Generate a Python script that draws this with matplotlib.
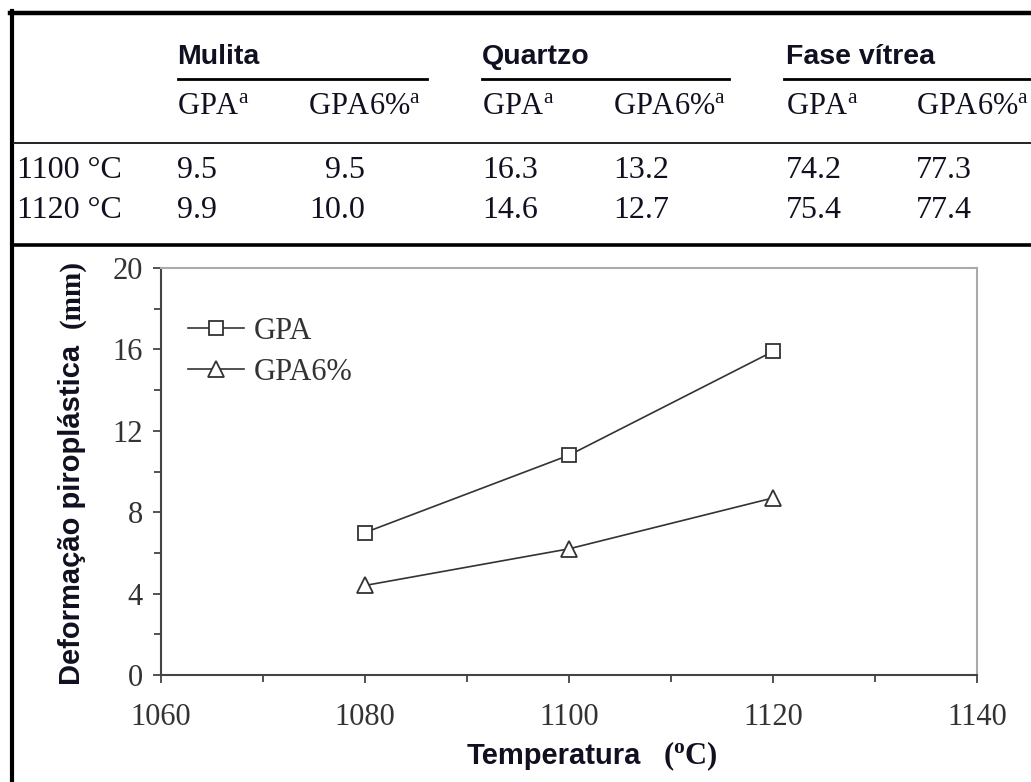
import numpy as np
import matplotlib
matplotlib.use('Agg')
import matplotlib.pyplot as plt
from matplotlib.lines import Line2D
from matplotlib.ticker import MultipleLocator

plt.rcParams['mathtext.fontset'] = 'custom'
plt.rcParams['mathtext.rm'] = 'Liberation Serif'
plt.rcParams['mathtext.bf'] = 'Liberation Serif:bold'
plt.rcParams['mathtext.it'] = 'Liberation Serif:italic'
plt.rcParams['font.family'] = 'Liberation Serif'

# table data
phases = ['Mulita', 'Quartzo', 'Fase vítrea']
samples = ['GPA', 'GPA6%']
row_labels = ['1100 °C', '1120 °C']
mulita_gpa = ['9.5', '9.9']
mulita_gpa6 = ['9.5', '10.0']
quartzo_gpa = ['16.3', '14.6']
quartzo_gpa6 = ['13.2', '12.7']
fase_gpa = ['74.2', '75.4']
fase_gpa6 = ['77.3', '77.4']

# chart data
temps = [1080, 1100, 1120]
gpa = [7.0, 10.8, 15.9]
gpa6 = [4.4, 6.2, 8.7]

W, H = 1031, 782
def fx(px):
    return px / W
def fy(py):
    return 1 - py / H

serif = 'Liberation Serif'
sans = 'Liberation Sans'
txtc = '#101020'
gray = '#333333'

fig = plt.figure(figsize=(W / 100, H / 100), dpi=100)

# frame lines
fig.add_artist(Line2D([fx(12), fx(12)], [fy(11), fy(782)], color='black', lw=3.0))
fig.add_artist(Line2D([fx(10), fx(1031)], [fy(13), fy(13)], color='black', lw=3.2))
fig.add_artist(Line2D([fx(14), fx(1031)], [fy(143), fy(143)], color='#222222', lw=1.4))
fig.add_artist(Line2D([fx(14), fx(1031)], [fy(245), fy(245)], color='black', lw=2.6))

# table header
head_x = [177, 482, 786]
line_x = [(178, 427), (482, 729), (784, 1031)]
for ph, hx, (l0, l1) in zip(phases, head_x, line_x):
    fig.text(fx(hx), fy(57), ph, family=sans, weight='bold', fontsize=20.5,
             color=txtc, ha='left', va='center')
    fig.add_artist(Line2D([fx(l0), fx(l1)], [fy(79), fy(79)], color='black', lw=2.0))

sub_x = [177, 308, 482, 613, 786, 916]
for i, sx in enumerate(sub_x):
    fig.text(fx(sx), fy(106), samples[i % 2] + r'$^{\mathrm{a}}$', family=serif,
             fontsize=22, color=txtc, ha='left', va='center')

row_y = [171, 210]
cols = [(mulita_gpa, 177, 'left'), (mulita_gpa6, 365, 'right'),
        (quartzo_gpa, 482, 'left'), (quartzo_gpa6, 613, 'left'),
        (fase_gpa, 786, 'left'), (fase_gpa6, 916, 'left')]
for r, ry in enumerate(row_y):
    fig.text(fx(17), fy(ry), row_labels[r], family=serif, fontsize=23,
             color=txtc, ha='left', va='center')
    for vals, cx, al in cols:
        fig.text(fx(cx), fy(ry), vals[r], family=serif, fontsize=23,
                 color=txtc, ha=al, va='center')

# chart
ax = fig.add_axes([fx(161), fy(675), fx(977) - fx(161), fy(268) - fy(675)])
ax.plot(temps, gpa, color=gray, lw=1.2, marker='s', ms=10, mfc='white',
        mec=gray, mew=1.3, label='GPA')
ax.plot(temps, gpa6, color=gray, lw=1.2, marker='^', ms=11, mfc='white',
        mec=gray, mew=1.3, label='GPA6%')
ax.set_xlim(1060, 1140)
ax.set_ylim(0, 20)
ax.xaxis.set_major_locator(MultipleLocator(20))
ax.xaxis.set_minor_locator(MultipleLocator(10))
ax.yaxis.set_major_locator(MultipleLocator(4))
ax.yaxis.set_minor_locator(MultipleLocator(2))
for s in ['left', 'bottom']:
    ax.spines[s].set_color('#444444')
    ax.spines[s].set_linewidth(1.5)
for s in ['top', 'right']:
    ax.spines[s].set_color('#aaaaaa')
    ax.spines[s].set_linewidth(1.5)
ax.tick_params(which='both', direction='out', color='#444444', width=1.3,
               labelcolor=gray, labelsize=22)
ax.tick_params(which='major', length=6)
ax.tick_params(which='minor', length=5)
ax.tick_params(axis='x', which='major', pad=14)
ax.tick_params(axis='y', which='major', pad=7)

leg = ax.legend(loc='upper left', bbox_to_anchor=(0.018, 0.91), frameon=False,
                prop={'family': serif, 'size': 22}, handlelength=1.85,
                handletextpad=0.3, labelspacing=0.4, borderaxespad=0)
for t in leg.get_texts():
    t.set_color(gray)

# axis labels
fig.text(fx(72), fy(515), 'Deformação piroplástica', family=sans, weight='bold',
         fontsize=21, color=txtc, rotation=90, ha='center', va='center')
fig.text(fx(72), fy(294), '(mm)', family=serif, weight='bold',
         fontsize=21, color=txtc, rotation=90, ha='center', va='center')
fig.text(fx(467), fy(756), 'Temperatura', family=sans, weight='bold',
         fontsize=21, color=txtc, ha='left', va='center')
fig.text(fx(663), fy(756), r'($^{\mathbf{o}}$C)', family=serif, weight='bold',
         fontsize=22, color=txtc, ha='left', va='center')

fig.savefig('out.png', dpi=100, facecolor='white')
